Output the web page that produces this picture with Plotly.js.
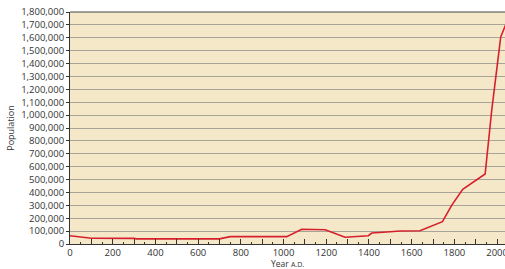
<!DOCTYPE html>
<html>
<head>
<meta charset="utf-8">
<script src="https://cdn.plot.ly/plotly-3.0.1.min.js"></script>
<style>html,body{margin:0;padding:0;background:#fff;}#chart{width:505px;height:269px;}</style>
</head>
<body>
<div id="chart"></div>
<script>
// Data
const years = [0, 100, 300, 310, 700, 750, 1015, 1085, 1195, 1288, 1397, 1413, 1483, 1546, 1639, 1744, 1788, 1839, 1944, 1975, 2017, 2040];
const population = [64000, 45000, 44000, 40000, 40000, 57000, 57000, 114000, 110000, 52000, 64000, 85000, 93000, 101000, 103000, 173000, 302000, 424000, 543000, 1040000, 1606000, 1700000];

const yTickVals = [0,100000,200000,300000,400000,500000,600000,700000,800000,900000,1000000,1100000,1200000,1300000,1400000,1500000,1600000,1700000,1800000];
const yTickText = yTickVals.map(v => v.toLocaleString('en-US'));
const xTickVals = [0,100,200,300,400,500,600,700,800,900,1000,1100,1200,1300,1400,1500,1600,1700,1800,1900,2000];
const xTickText = xTickVals.map(v => (v % 200 === 0) ? String(v) : '');

const font = {family: 'Open Sans, sans-serif', size: 9.5, color: '#333'};

Plotly.newPlot('chart', [{
  x: years, y: population, type: 'scatter', mode: 'lines',
  line: {color: '#d7202b', width: 1.6}, hoverinfo: 'skip'
}], {
  width: 505, height: 269,
  margin: {l: 70, r: 0, t: 12, b: 25},
  paper_bgcolor: '#ffffff', plot_bgcolor: '#f4e8c9',
  showlegend: false,
  font: font,
  xaxis: {
    range: [0, 2037], tickvals: xTickVals, ticktext: xTickText,
    ticks: 'inside', ticklen: 5, tickcolor: '#333', tickwidth: 1,
    minor: {dtick: 50, tick0: 0, ticks: 'inside', ticklen: 2.5, tickcolor: '#333', showgrid: false},
    showgrid: false, zeroline: false,
    showline: true, linecolor: '#333', linewidth: 1,
    tickfont: font, ticklabeloverflow: 'allow',
    title: {text: 'Year <span style="font-size:7px">A.D.</span>', font: {family: 'Open Sans, sans-serif', size: 8.5, color: '#333'}, standoff: 4}
  },
  yaxis: {
    range: [0, 1800000], tickvals: yTickVals, ticktext: yTickText,
    ticks: 'outside', ticklen: 3, tickcolor: '#333',
    showgrid: true, gridcolor: '#a9a49a', gridwidth: 1,
    zeroline: false, showline: true, linecolor: '#333', linewidth: 1,
    tickfont: font,
    title: {text: 'Population', font: {family: 'Open Sans, sans-serif', size: 9, color: '#333'}, standoff: 4}
  },
  shapes: [{type: 'line', xref: 'paper', yref: 'paper', x0: 0, x1: 1, y0: 1, y1: 1, line: {color: '#444', width: 1}}]
}, {staticPlot: true, displayModeBar: false});
</script>
</body>
</html>
